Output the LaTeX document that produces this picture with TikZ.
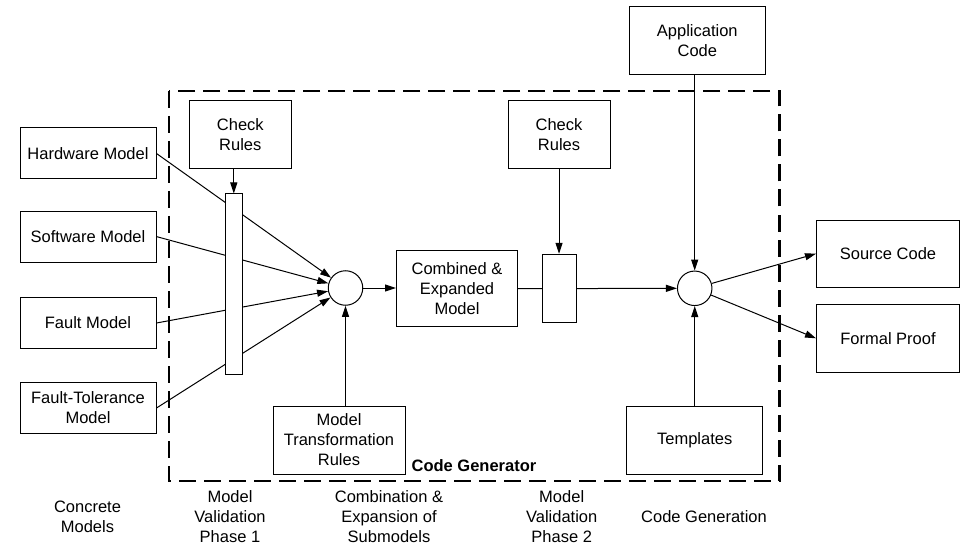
\documentclass[tikz,border=0pt]{standalone}
\usepackage{fontspec}
\setmainfont{Liberation Sans}
\usepackage{tikz}
\usetikzlibrary{arrows.meta,backgrounds}

\begin{document}
\begin{tikzpicture}[x=1pt,y=-1pt,line width=1pt,>={Triangle[length=11pt,width=7pt]}]
\tikzstyle{every node}=[font=\fontsize{16.5}{20}\selectfont,align=center,inner sep=0pt];
\tikzstyle{box}=[draw,rectangle,minimum width=136pt,minimum height=51pt];
\tikzstyle{rulebox}=[draw,rectangle,minimum width=102pt,minimum height=68pt];
\tikzstyle{bar}=[draw,rectangle,fill=white];
\tikzstyle{junction}=[draw,circle,minimum size=34.5pt];
\tikzstyle{link}=[->,line width=1pt];
\useasboundingbox (0,0) rectangle (960,545);

% concrete models
\node[box] (hw) at (88,153.5) {Hardware Model};
\node[box] (sw) at (88,236.6) {Software Model};
\node[box] (fault) at (88,323) {Fault Model};
\node[box] (ft) at (88,408) {Fault-Tolerance\\Model};

% code generator
\draw[line width=2.5pt,dash pattern=on 17pt off 8pt] (169,91) rectangle (779.5,481);
\node[font=\fontsize{16.5}{20}\selectfont\bfseries] (cg) at (474,466) {Code Generator};

\node[rulebox] (check1) at (240.3,134.7) {Check\\Rules};
\node[bar,minimum width=17pt,minimum height=180pt] (bar1) at (233.8,284) {};
\node[junction] (circ1) at (345.5,288) {};
\node[draw,minimum width=132pt,minimum height=68pt] (mtr) at (339,440) {Model\\Transformation\\Rules};
\node[draw,minimum width=121pt,minimum height=76pt] (comb) at (457,288.7) {Combined \&\\Expanded\\Model};
\node[bar,minimum width=34pt,minimum height=68pt] (bar2) at (559,288.3) {};
\node[rulebox] (check2) at (559,134.8) {Check\\Rules};
\node[junction] (circ2) at (694.7,288.3) {};
\node[draw,minimum width=136pt,minimum height=68pt] (tmpl) at (694.7,440.7) {Templates};

% outside
\node[draw,minimum width=136pt,minimum height=68pt] (app) at (697.3,40.7) {Application\\Code};
\node[draw,minimum width=143pt,minimum height=67pt] (src) at (888,253.7) {Source Code};
\node[draw,minimum width=143pt,minimum height=68pt] (proof) at (888,338.3) {Formal Proof};

% connectors
\begin{scope}[on background layer]
\foreach \m in {hw,sw,fault,ft}
	\draw[link] (\m.east) -- (circ1);
\draw[link] (comb.east) -- (circ2.west);
\end{scope}
\draw[link] (check1.south -| bar1) -- (bar1.north);
\draw[link] (check2.south) -- (bar2.north);
\draw[link] (mtr.north -| circ1) -- (circ1.south);
\draw[link] (circ1.east) -- (comb.west |- circ1);
\draw[link] (app.south -| circ2) -- (circ2.north);
\draw[link] (tmpl.north) -- (circ2.south);
\draw[link] (circ2) -- (src.west);
\draw[link] (circ2) -- (proof.west);

% phase labels
\node (lconcrete) at (87.5,517) {Concrete\\Models};
\node (lval1) at (230,517) {Model\\Validation\\Phase 1};
\node (lcomb) at (389,517) {Combination \&\\Expansion of\\Submodels};
\node (lval2) at (561.7,517) {Model\\Validation\\Phase 2};
\node (lgen) at (704,517) {Code Generation};
\end{tikzpicture}
\end{document}
